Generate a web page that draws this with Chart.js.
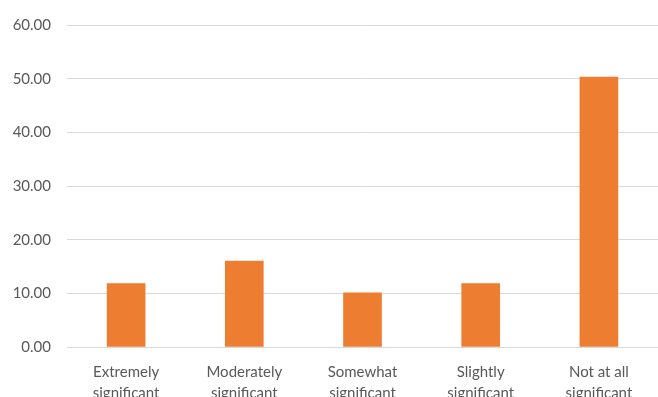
<!DOCTYPE html>
<html>
<head>
<meta charset="utf-8">
<script src="https://cdn.jsdelivr.net/npm/chart.js@4"></script>
<style>
  html, body { margin: 0; padding: 0; background: #fff; overflow: hidden; }
  #wrap { width: 658px; height: 397px; }
</style>
</head>
<body>
<div id="wrap"><canvas id="chart" width="658" height="397"></canvas></div>
<script>
  // ── Data ──
  const categories = [
    ['Extremely', 'significant'],
    ['Moderately', 'significant'],
    ['Somewhat', 'significant'],
    ['Slightly', 'significant'],
    ['Not at all', 'significant']
  ];
  const values = [11.8, 16.0, 10.1, 11.8, 50.3];
  const yTicks = [0, 10, 20, 30, 40, 50, 60];

  const ORANGE = '#ED7D31';
  const GRID = '#d9d9d9';
  const TEXT = '#595959';

  Chart.defaults.font.family = "Lato, 'Open Sans', sans-serif";
  Chart.defaults.color = TEXT;

  new Chart(document.getElementById('chart').getContext('2d'), {
    type: 'bar',
    data: {
      labels: categories,
      datasets: [{
        data: values,
        backgroundColor: ORANGE,
        borderWidth: 0,
        barThickness: 38
      }]
    },
    options: {
      responsive: false,
      animation: false,
      layout: { padding: { top: 21.5, right: -4, left: 0, bottom: 0 } },
      plugins: {
        legend: { display: false },
        tooltip: { enabled: false }
      },
      scales: {
        x: {
          grid: { display: false },
          border: { display: false },
          ticks: {
            font: { size: 15, lineHeight: 1.4 },
            color: TEXT,
            padding: 7,
            maxRotation: 0,
            autoSkip: false
          },
          afterFit: (axis) => { axis.height = 50; }
        },
        y: {
          min: 0,
          max: 60,
          afterBuildTicks: (axis) => { axis.ticks = yTicks.map(v => ({ value: v })); },
          grid: { color: GRID, lineWidth: 1, drawTicks: false },
          border: { display: false },
          ticks: {
            font: { size: 15 },
            color: TEXT,
            padding: 16,
            callback: (v) => Number(v).toFixed(2)
          },
          afterFit: (axis) => { axis.width = 67; }
        }
      }
    }
  });
</script>
</body>
</html>
